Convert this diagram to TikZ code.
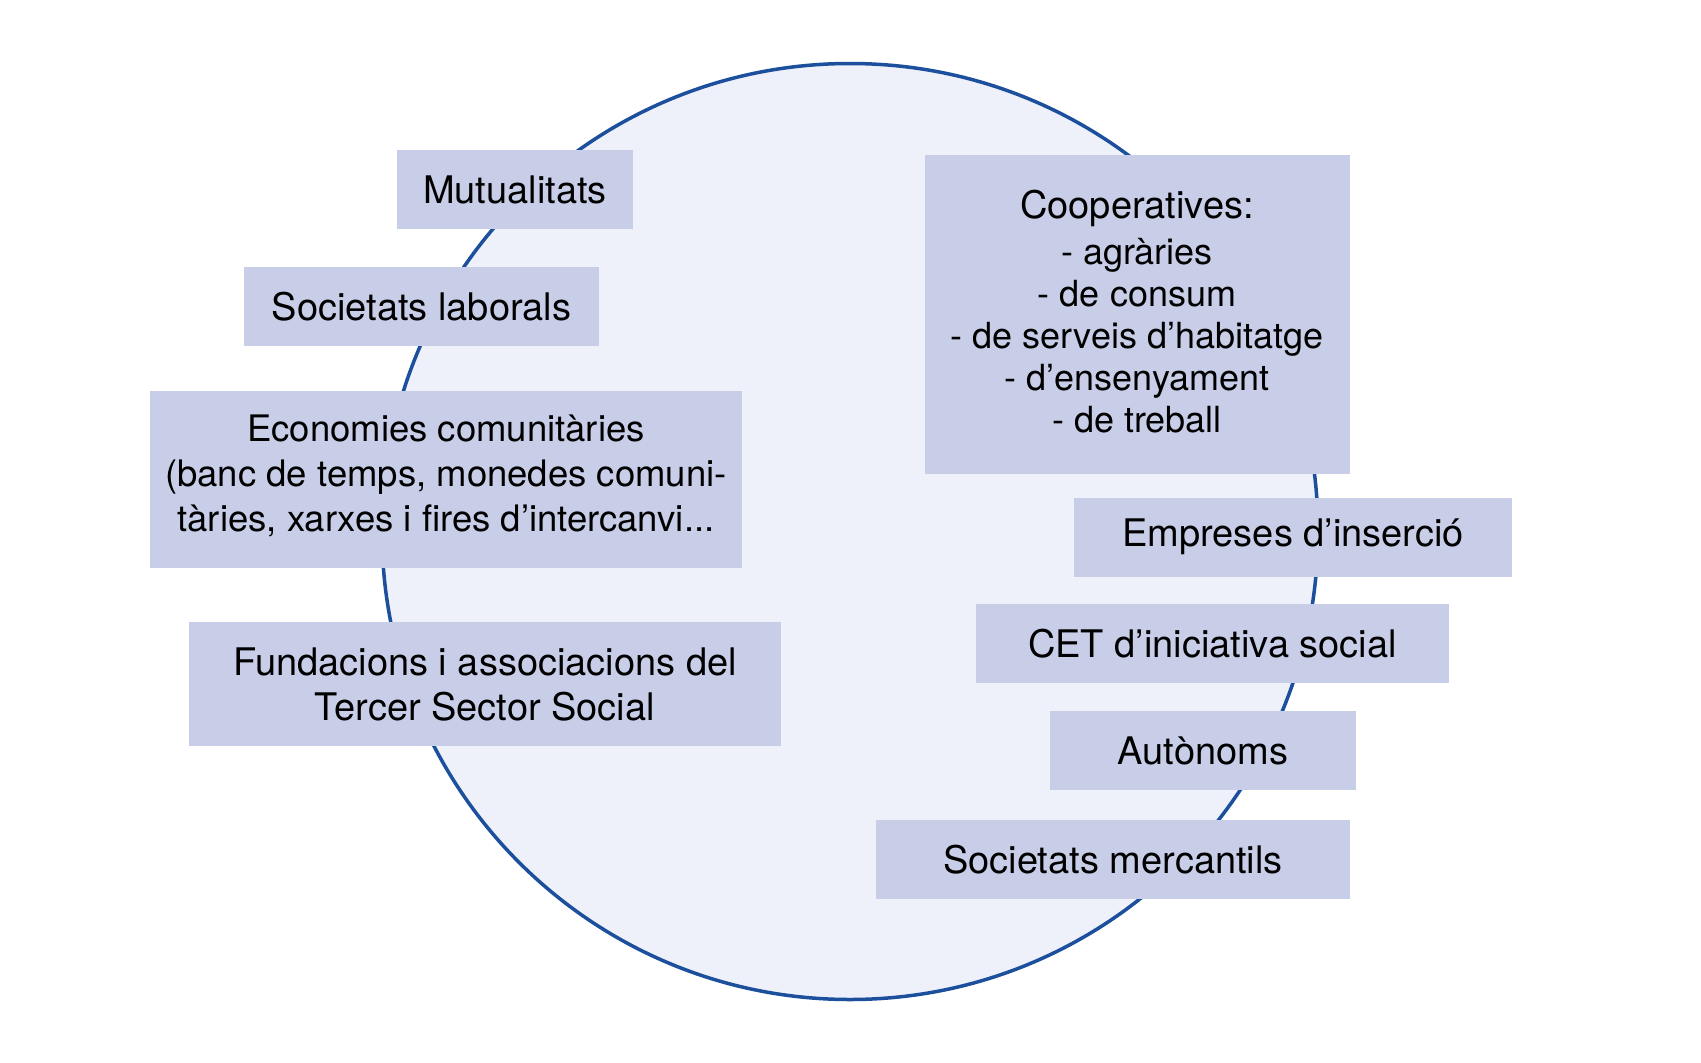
\documentclass[tikz,border=0pt]{standalone}
\usepackage{fontspec}
\setmainfont{TeX Gyre Heros}
\definecolor{boxfill}{HTML}{C9CEE8}
\definecolor{circfill}{HTML}{EEF1FA}
\definecolor{ringblue}{HTML}{1C4F9C}
\tikzset{
  box/.style={fill=boxfill, inner sep=0pt, align=center, text=black,
    font=\fontsize{38}{45}\selectfont},
  boxtext/.style={inner sep=0pt, align=center, text=black},
}
\begin{document}
\begin{tikzpicture}[x=1pt,y=-1pt]
\useasboundingbox (0,0) rectangle (1701,1063);
\fill[white] (0,0) rectangle (1701,1063);
\node[circle, draw=ringblue, line width=3.5pt, fill=circfill, minimum size=936pt, inner sep=0pt] (ring) at (850,531.5) {};
% left side
\node[box, minimum width=236pt, minimum height=79pt] (mut) at (515,189.5) {Mutualitats};
\node[box, minimum width=355pt, minimum height=79pt] (lab) at (421.5,306.5) {Societats laborals};
\node[box, minimum width=592pt, minimum height=177pt] (eco) at (446,479) {};
\node[boxtext, font=\fontsize{36.5}{45}\selectfont] (ecotext) at ([yshift=3pt]eco.center) {Economies comunitàries\\(banc de temps, monedes comuni-\\tàries, xarxes i fires d’intercanvi...};
\node[box, minimum width=592pt, minimum height=124pt] (fun) at (485,684) {Fundacions i associacions del\\Tercer Sector Social};
% right side
\node[box, minimum width=425pt, minimum height=319pt] (coop) at (1137,314.5) {};
\node[boxtext, font=\fontsize{36}{42}\selectfont] (cooptext) at ([yshift=3pt]coop.center) {{\fontsize{38}{42}\selectfont Cooperatives:}\\[4pt]- agràries\\- de consum\\- de serveis d’habitatge\\- d’ensenyament\\- de treball};
\node[box, minimum width=438pt, minimum height=79pt] (emp) at (1293,537) {Empreses d’inserció};
\node[box, minimum width=473pt, minimum height=79pt] (cet) at (1212.5,643.5) {CET d’iniciativa social};
\node[box, minimum width=306pt, minimum height=79pt] (aut) at (1203,750.5) {Autònoms};
\node[box, minimum width=474pt, minimum height=79pt] (mer) at (1113,859.5) {Societats mercantils};
\end{tikzpicture}
\end{document}
